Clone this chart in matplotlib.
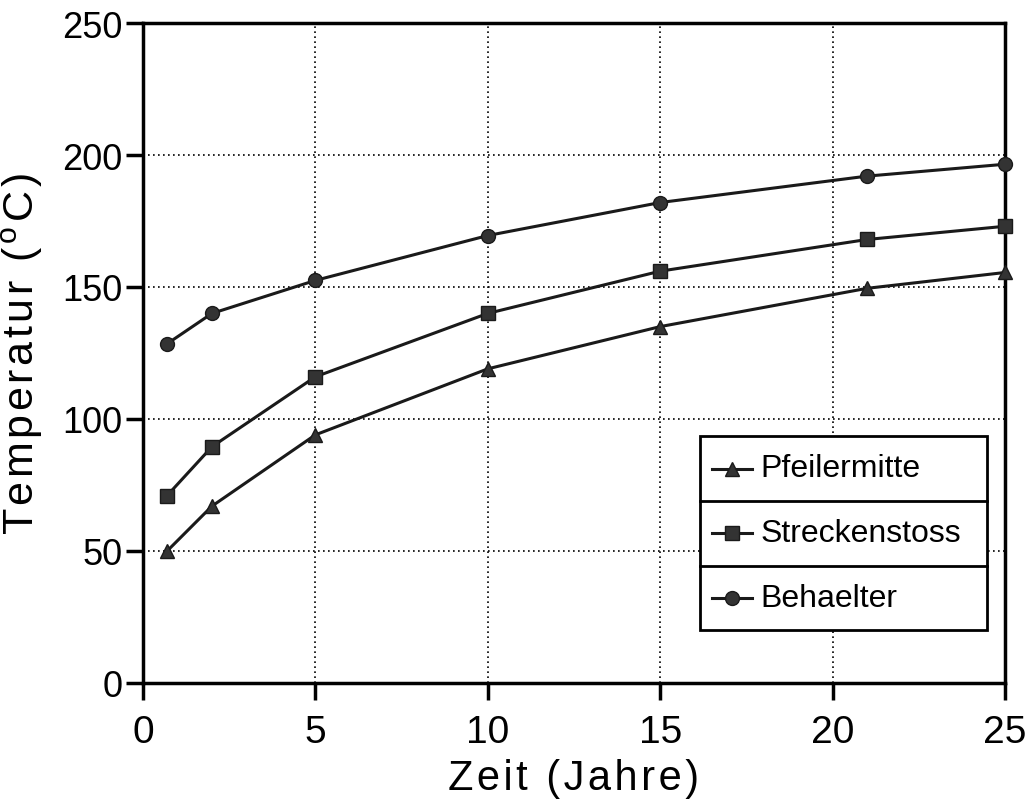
import matplotlib
matplotlib.use("Agg")
import matplotlib.pyplot as plt
from matplotlib.lines import Line2D

plt.rcParams["font.family"] = ["Liberation Sans", "DejaVu Sans"]
plt.rcParams["mathtext.fontset"] = "custom"
plt.rcParams["mathtext.rm"] = "Liberation Sans"

# ── Data ──
zeit = [0.7, 2, 5, 10, 15, 21, 25]
pfeilermitte = [50, 67, 94, 119, 135, 149.5, 155.5]
streckenstoss = [71, 89.5, 116, 140, 156, 168, 173]
behaelter = [128.5, 140, 152.5, 169.5, 182, 192, 196.5]

series = [("Pfeilermitte", pfeilermitte, "^"),
          ("Streckenstoss", streckenstoss, "s"),
          ("Behaelter", behaelter, "o")]

ink = "#1a1a1a"
HS = "\u200a"  # hair space, to mimic the wide plotter lettering


def spaced(s):
    return HS.join(s)


fig = plt.figure(figsize=(10.27, 8.12), dpi=100)
ax = fig.add_axes([143 / 1027, 1 - 684 / 812, 862 / 1027, 660 / 812])

for name, vals, m in series:
    ax.plot(zeit, vals, color=ink, linewidth=2.2, marker=m,
            markersize=10, markerfacecolor="#333333",
            markeredgecolor=ink, clip_on=False, zorder=3)

ax.set_xlim(0, 25)
ax.set_ylim(0, 250)
ax.set_xticks([0, 5, 10, 15, 20, 25])
ax.set_yticks([0, 50, 100, 150, 200, 250])
ax.grid(True, color="black", linestyle=(0, (1, 2)), linewidth=1.2)
ax.tick_params(direction="out", length=12, width=2.5, colors="black")
ax.tick_params(axis="x", labelsize=28, pad=10)
ax.tick_params(axis="y", labelsize=26, pad=3)
for spine in ax.spines.values():
    spine.set_linewidth(2.5)

ax.set_xlabel(spaced("Zeit ") + HS + spaced("(Jahre)"), fontsize=30,
              labelpad=6)
ax.set_ylabel(spaced("Temperatur ") + HS + "(" + HS + r"$^{\mathrm{o}}$"
              + HS + "C" + HS + ")", fontsize=31, labelpad=12)

# ── Boxed legend, one cell per series ──
x0, x1 = 0.646, 0.979
y_top, y_bot = 0.374, 0.080
cell = (y_top - y_bot) / 3
ax.add_patch(plt.Rectangle((x0, y_bot), x1 - x0, y_top - y_bot,
                           transform=ax.transAxes, facecolor="white",
                           edgecolor="black", linewidth=2, zorder=5))
for i, (name, vals, m) in enumerate(series):
    yc = y_top - cell * (i + 0.5)
    if i > 0:
        ax.add_line(Line2D([x0, x1], [y_top - cell * i] * 2,
                           transform=ax.transAxes, color="black",
                           linewidth=2, zorder=6))
    ax.add_line(Line2D([0.660, 0.706], [yc, yc],
                       transform=ax.transAxes, color=ink, linewidth=2.2,
                       zorder=6))
    ax.add_line(Line2D([0.683], [yc], transform=ax.transAxes,
                       marker=m, markersize=10, markerfacecolor="#333333",
                       markeredgecolor=ink, zorder=7))
    ax.text(0.716, yc, name, transform=ax.transAxes, fontsize=23,
            va="center", ha="left", zorder=7)

fig.savefig("out.png", dpi=100)
